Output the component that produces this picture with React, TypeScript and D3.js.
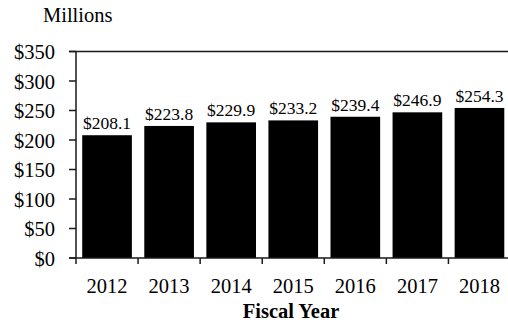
import React from "react";
import * as d3 from "d3";

const years = ["2012", "2013", "2014", "2015", "2016", "2017", "2018"];
const values = [208.1, 223.8, 229.9, 233.2, 239.4, 246.9, 254.3];
const yTicks = [0, 50, 100, 150, 200, 250, 300, 350];

const W = 508;
const H = 326;
const left = 76;
const right = 510.5;
const top = 51.5;
const bottom = 258;
const font = "'Liberation Serif', 'Times New Roman', serif";

export default function App() {
  const x = d3.scaleBand<string>().domain(years).range([left, right]).paddingInner(0.2).paddingOuter(0.1);
  const y = d3.scaleLinear().domain([0, 350]).range([bottom, top]);
  const step = x.step();
  const stroke = "#1a1a1a";
  return (
    <svg width={W} height={H} style={{ position: "absolute", left: 0, top: 0 }} fontFamily={font}>
      <rect width={W} height={H} fill="#fff" />
      <text x={43} y={22} fontSize={20.5} fill="#000">Millions</text>
      {years.map((yr, i) => (
        <g key={yr}>
          <rect x={x(yr)} y={y(values[i])} width={x.bandwidth()} height={y(0) - y(values[i])} fill="#000" />
          <text x={(x(yr) as number) + x.bandwidth() / 2} y={y(values[i]) - 6} fontSize={17.5} textAnchor="middle" fill="#000">
            ${values[i].toFixed(1)}
          </text>
          <text x={(x(yr) as number) + x.bandwidth() / 2} y={293} fontSize={20.5} textAnchor="middle" fill="#000">{yr}</text>
        </g>
      ))}
      {/* axes */}
      <line x1={left} x2={left} y1={y(350)} y2={y(0)} stroke={stroke} strokeWidth={1.5} />
      <line x1={69} x2={W} y1={y(0)} y2={y(0)} stroke={stroke} strokeWidth={1.5} />
      <line x1={69} x2={W} y1={y(350)} y2={y(350)} stroke={stroke} strokeWidth={1.5} />
      {yTicks.map((t) => (
        <g key={t}>
          <line x1={69} x2={left} y1={y(t)} y2={y(t)} stroke={stroke} strokeWidth={1.5} />
          <text x={55} y={y(t) + 7.5} fontSize={20.5} textAnchor="end" fill="#000">${t}</text>
        </g>
      ))}
      {years.map((yr, i) => (
        <line key={"t" + yr} x1={left + i * step} x2={left + i * step} y1={y(0)} y2={y(0) + 6} stroke={stroke} strokeWidth={1.5} />
      ))}
      <text x={291} y={318} fontSize={20.5} fontWeight="bold" textAnchor="middle" fill="#000">Fiscal Year</text>
    </svg>
  );
}
